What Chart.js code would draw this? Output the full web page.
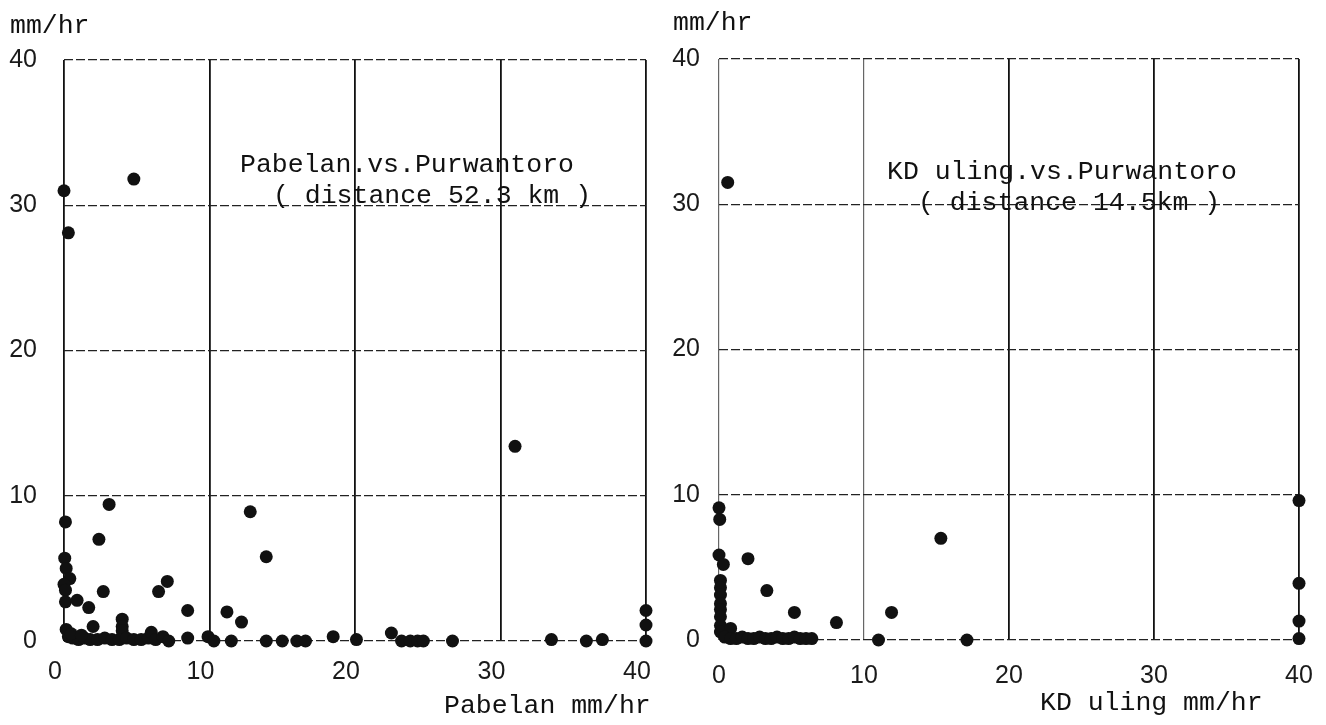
<!DOCTYPE html>
<html>
<head>
<meta charset="utf-8">
<script src="https://cdn.jsdelivr.net/npm/chart.js@4/dist/chart.umd.min.js"></script>
<style>
  html, body { margin: 0; padding: 0; background: #fff; }
  #wrap { position: relative; width: 1326px; height: 725px; overflow: hidden; }
  #wrap canvas { position: absolute; top: 0; }
  #graficoPabelan { left: 0; }
  #graficoKduling { left: 663px; }
</style>
</head>
<body>
<div id="wrap">
  <canvas id="graficoPabelan" width="663" height="725"></canvas>
  <canvas id="graficoKduling" width="663" height="725"></canvas>
</div>
<script>
// rainfall intensity pairs, mm/hr (x = neighbouring station, y = Purwantoro)
const pabelanX = [
  0, 4.8, 0.3, 31.0, 3.1, 12.8, 0.1, 2.4, 13.9, 0.05, 0.15, 0.4, 0, 0.1, 2.7, 7.1, 6.5,
  0.1, 0.9, 1.7, 8.5, 11.2, 12.2, 4.0, 4.0, 4.0, 2.0, 0.15,
  0.3, 0.6, 1.0, 1.4, 1.8, 2.3, 2.8, 3.3, 3.8, 4.3, 4.8, 5.3, 5.8, 6.0, 6.3, 6.8, 7.2, 0.5, 1.2,
  8.5, 9.9, 10.3, 11.5, 13.9, 15.0, 16.0, 16.6, 18.5, 20.1, 22.5,
  23.2, 23.8, 24.3, 24.7, 26.7, 33.5, 35.9, 37.0, 40, 40, 40
];
const pabelanY = [
  31.0, 31.8, 28.1, 13.4, 9.4, 8.9, 8.2, 7.0, 5.8, 5.7, 5.0, 4.3, 3.9, 3.5, 3.4, 4.1, 3.4,
  2.7, 2.8, 2.3, 2.1, 2.0, 1.3, 1.5, 1.0, 0.7, 1.0, 0.8,
  0.3, 0.2, 0.1, 0.2, 0.1, 0.1, 0.2, 0.1, 0.1, 0.2, 0.1, 0.1, 0.2, 0.6, 0.1, 0.3, 0.0, 0.5, 0.4,
  0.2, 0.3, 0.0, 0.0, 0.0, 0.0, 0.0, 0.0, 0.3, 0.1, 0.55,
  0.0, 0.0, 0.0, 0.0, 0.0, 0.1, 0.0, 0.1, 2.1, 1.1, 0.0
];

const kdulingX = [
  0.6, 40, 40, 40, 40, 15.3, 2.0, 3.3, 5.2, 8.1, 11.9, 11.0, 17.1,
  0, 0.05, 0, 0.3, 0.1, 0.1, 0.1, 0.1, 0.1, 0.1, 0.1, 0.1, 0.8,
  0.4, 0.8, 1.2, 1.6, 2.0, 2.4, 2.8, 3.2, 3.6, 4.0, 4.4, 4.8, 5.2, 5.6, 6.0, 6.4
];
const kdulingY = [
  31.5, 9.6, 3.9, 1.3, 0.1, 7.0, 5.6, 3.4, 1.9, 1.2, 1.9, 0.0, 0.0,
  9.1, 8.3, 5.85, 5.2, 4.1, 3.6, 3.1, 2.5, 2.1, 1.6, 1.0, 0.55, 0.8,
  0.2, 0.1, 0.1, 0.2, 0.1, 0.1, 0.2, 0.1, 0.1, 0.2, 0.1, 0.1, 0.2, 0.1, 0.1, 0.1
];

const eixoMin = 0;
const eixoMax = 40;
const eixoPasso = 10;

document.addEventListener("DOMContentLoaded", () => {
  const fonteMaquina = '"Liberation Mono", "DejaVu Sans Mono", monospace';
  const fonteNumeros = '"Liberation Sans", Arial, sans-serif';

  // typed captions drawn straight on the canvas
  const textosPlugin = {
    id: 'textos',
    afterDraw(chart, args, opts) {
      const c = chart.ctx;
      c.save();
      c.fillStyle = '#111';
      c.font = '26.5px ' + fonteMaquina;
      c.textBaseline = 'alphabetic';
      c.textAlign = 'left';
      (opts.itens || []).forEach(t => c.fillText(t.texto, t.x, t.y));
      c.restore();
    }
  };

  function pontos(xs, ys) {
    return xs.map((x, i) => ({ x, y: ys[i] }));
  }

  function criarGrafico(id, dados, cfg) {
    const ctx = document.getElementById(id).getContext('2d');
    return new Chart(ctx, {
      type: 'scatter',
      data: {
        datasets: [{
          data: dados,
          backgroundColor: '#111',
          borderColor: '#111',
          borderWidth: 0,
          pointRadius: 6.5,
          pointHoverRadius: 6.5,
          clip: false
        }]
      },
      options: {
        responsive: false,
        animation: false,
        events: [],
        layout: { padding: cfg.padding },
        plugins: {
          legend: { display: false },
          tooltip: { enabled: false },
          textos: { itens: cfg.textos }
        },
        scales: {
          x: {
            type: 'linear',
            min: eixoMin,
            max: eixoMax,
            // fixed box so the plot frame sits where the padding puts it
            afterFit: s => {
              s.height = cfg.alturaX;
              s.paddingLeft = 0;
              s.paddingRight = 0;
            },
            ticks: {
              stepSize: eixoPasso,
              padding: cfg.padX,
              labelOffset: cfg.offsetX,
              color: '#1a1a1a',
              font: { family: fonteNumeros, size: 25 }
            },
            grid: {
              drawTicks: false,
              color: cfg.corGradeX,
              lineWidth: cfg.larguraGradeX
            },
            border: { display: false }
          },
          y: {
            type: 'linear',
            min: eixoMin,
            max: eixoMax,
            afterFit: s => {
              s.width = cfg.larguraY;
              s.paddingTop = 0;
              s.paddingBottom = 0;
            },
            ticks: {
              stepSize: eixoPasso,
              padding: cfg.padY,
              color: '#1a1a1a',
              font: { family: fonteNumeros, size: 25 }
            },
            grid: {
              drawTicks: false,
              color: '#222',
              lineWidth: 1.2
            },
            border: { display: false, dash: [9, 3] }
          }
        }
      },
      plugins: [textosPlugin]
    });
  }

  criarGrafico('graficoPabelan', pontos(pabelanX, pabelanY), {
    padding: { top: 60, right: 17, left: 0, bottom: 0 },
    alturaX: 84,
    larguraY: 64,
    padX: 16,
    padY: 27,
    offsetX: -9,
    corGradeX: '#111',
    larguraGradeX: 1.8,
    textos: [
      { texto: 'mm/hr', x: 10, y: 33 },
      { texto: 'Pabelan.vs.Purwantoro', x: 240, y: 172 },
      { texto: '( distance 52.3 km )', x: 273, y: 203 },
      { texto: 'Pabelan mm/hr', x: 444, y: 713 }
    ]
  });

  criarGrafico('graficoKduling', pontos(kdulingX, kdulingY), {
    padding: { top: 59, right: 27, left: 0, bottom: 0 },
    alturaX: 85,
    larguraY: 56,
    padX: 21,
    padY: 19,
    offsetX: 0,
    // first two verticals are faint dotted lines on the original sheet
    corGradeX: c => (c.tick && c.tick.value < 20 ? '#666' : '#111'),
    larguraGradeX: c => (c.tick && c.tick.value < 20 ? 1.2 : 1.8),
    textos: [
      { texto: 'mm/hr', x: 10, y: 30 },
      { texto: 'KD uling.vs.Purwantoro', x: 224, y: 179 },
      { texto: '( distance 14.5km )', x: 255, y: 210 },
      { texto: 'KD uling mm/hr', x: 377, y: 710 }
    ]
  });
});
</script>
</body>
</html>
